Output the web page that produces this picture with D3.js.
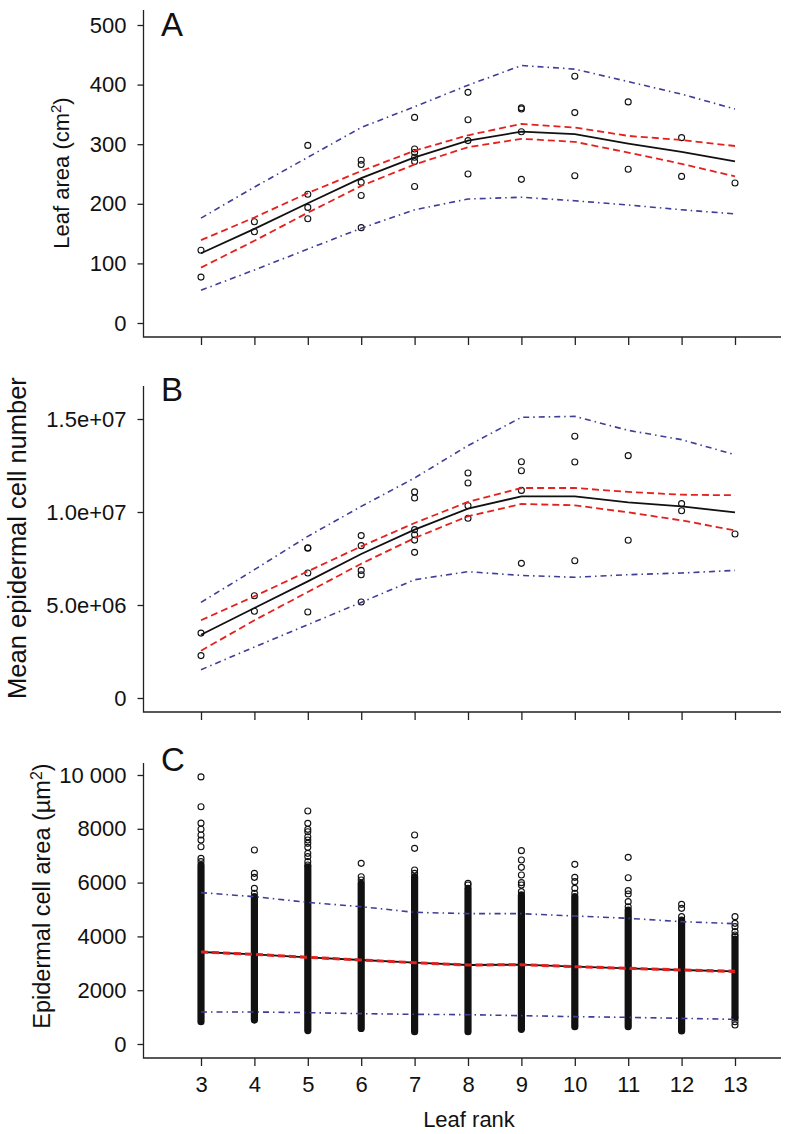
<!DOCTYPE html>
<html>
<head>
<meta charset="utf-8">
<script src="https://cdn.jsdelivr.net/npm/d3@7"></script>
<style>
  html, body { margin: 0; padding: 0; background: #fff; }
  svg { display: block; }
  text { font-family: "Liberation Sans", Arial, Helvetica, sans-serif; fill: #111; }
</style>
</head>
<body>
<svg id="chart" width="795" height="1134"></svg>
<script>
// ---------------- DATA ----------------
const ranks = [3, 4, 5, 6, 7, 8, 9, 10, 11, 12, 13];

// Panel A: leaf area (cm2)
const leafAreaObs = [
  [122, 77],
  [170, 153],
  [298, 216, 194, 175],
  [273, 266, 236, 214, 160],
  [345, 292, 286, 278, 271, 229],
  [387, 341, 306, 250],
  [361, 359, 321, 241],
  [414, 353, 247],
  [371, 258],
  [311, 246],
  [235]
];
const leafAreaFit  = [117, 158, 201, 243, 278, 306, 321, 317, 301, 287, 271];
const leafAreaCIUp = [139, 177, 218, 255, 289, 315, 334, 328, 314, 307, 297];
const leafAreaCILo = [93, 138, 185, 230, 266, 295, 309, 304, 286, 267, 246];
const leafAreaPIUp = [176, 228, 278, 328, 363, 399, 432, 426, 405, 384, 359];
const leafAreaPILo = [55, 89, 124, 159, 190, 208, 211, 205, 198, 190, 183];
const leafAreaTicks = [0, 100, 200, 300, 400, 500];
const leafAreaTickLabels = ["0", "100", "200", "300", "400", "500"];

// Panel B: mean epidermal cell number (millions)
const cellNumObs = [
  [3.49, 2.28],
  [5.50, 4.66],
  [8.08, 8.05, 6.72, 4.62],
  [8.73, 8.19, 6.86, 6.63, 5.16],
  [11.08, 10.75, 9.05, 8.78, 8.49, 7.83],
  [12.10, 11.56, 10.34, 9.66],
  [12.70, 12.22, 11.16, 7.24],
  [14.07, 12.69, 7.38],
  [13.03, 8.48],
  [10.45, 10.07],
  [8.82]
];
const cellNumFit  = [3.40, 4.84, 6.27, 7.74, 9.05, 10.18, 10.84, 10.84, 10.52, 10.30, 9.98];
const cellNumCIUp = [4.18, 5.47, 6.81, 8.15, 9.41, 10.54, 11.29, 11.29, 11.08, 10.93, 10.90];
const cellNumCILo = [2.54, 4.18, 5.70, 7.22, 8.60, 9.77, 10.43, 10.36, 9.98, 9.55, 9.01];
const cellNumPIUp = [5.14, 6.90, 8.69, 10.30, 11.83, 13.57, 15.09, 15.14, 14.39, 13.89, 13.08];
const cellNumPILo = [1.52, 2.74, 3.94, 5.14, 6.36, 6.79, 6.59, 6.49, 6.63, 6.72, 6.86];
const cellNumTicks = [0, 5, 10, 15];
const cellNumTickLabels = ["0", "5.0e+06", "1.0e+07", "1.5e+07"];

// Panel C: epidermal cell area (um2)
const cellAreaSparse = [
  [9930, 8820, 8210, 7985, 7770, 7580, 7335, 6900, 6780],
  [7212, 6344, 6196, 5787, 5601],
  [8662, 8203, 7980, 7893, 7707, 7584, 7460, 7311, 7088, 6964, 6778, 6654],
  [6716, 6220, 6097],
  [7769, 7274, 6468, 6344],
  [5973, 5911],
  [7187, 6840, 6567, 6282, 5998, 5911, 5663],
  [6679, 6196, 6035, 5787, 5601],
  [6939, 6183, 5700, 5576, 5291, 5105],
  [5192, 5043, 4734],
  [4734, 4486, 4362, 4176, 4052, 3990, 955, 830, 706]
];
const cellAreaDenseLo = [830, 890, 500, 580, 460, 460, 545, 645, 645, 485, 1000];
const cellAreaDenseHi = [6650, 5480, 6590, 5970, 6220, 5790, 5540, 5480, 4980, 4610, 3900];
const cellAreaFit  = [3420, 3333, 3222, 3123, 3023, 2937, 2949, 2875, 2813, 2751, 2701];
const cellAreaCIUp = [3445, 3355, 3245, 3145, 3045, 2960, 2970, 2897, 2836, 2775, 2727];
const cellAreaCILo = [3395, 3311, 3199, 3101, 3001, 2914, 2928, 2853, 2790, 2727, 2675];
const cellAreaPIUp = [5626, 5477, 5266, 5105, 4895, 4845, 4845, 4758, 4672, 4548, 4473];
const cellAreaPILo = [1190, 1190, 1165, 1128, 1103, 1090, 1053, 1016, 991, 954, 917];
const cellAreaTicks = [0, 2000, 4000, 6000, 8000, 10000];
const cellAreaTickLabels = ["0", "2000", "4000", "6000", "8000", "10 000"];

// ---------------- LAYOUT ----------------
const svg = d3.select("#chart");
const AXIS_X = 143.5, AXIS_END = 781;
const x = d3.scaleLinear().domain([3, 13]).range([201, 735]);

const RED = "#e3211f", BLUE = "#3f3d97", BLACK = "#111";

const panels = [
  { label: "A", top: 10, bottom: 337, domain: [0, 500], range: [323, 25],
    ticks: leafAreaTicks, tickLabels: leafAreaTickLabels,
    obs: leafAreaObs, fit: leafAreaFit, ciUp: leafAreaCIUp, ciLo: leafAreaCILo,
    piUp: leafAreaPIUp, piLo: leafAreaPILo,
    title: ["Leaf area (cm", "2", ")"], titleX: 69, titleY: 173, titleSize: 22,
    labelY: 36 },
  { label: "B", top: 386, bottom: 712, domain: [0, 15], range: [698, 419],
    ticks: cellNumTicks, tickLabels: cellNumTickLabels,
    obs: cellNumObs, fit: cellNumFit, ciUp: cellNumCIUp, ciLo: cellNumCILo,
    piUp: cellNumPIUp, piLo: cellNumPILo,
    title: ["Mean epidermal cell number"], titleX: 26, titleY: 538, titleSize: 25.5,
    labelY: 401 },
  { label: "C", top: 763, bottom: 1058, domain: [0, 10000], range: [1044, 775],
    ticks: cellAreaTicks, tickLabels: cellAreaTickLabels,
    fit: cellAreaFit, ciUp: cellAreaCIUp, ciLo: cellAreaCILo,
    piUp: cellAreaPIUp, piLo: cellAreaPILo,
    title: ["Epidermal cell area (\u00b5m", "2", ")"], titleX: 50, titleY: 896, titleSize: 23.5,
    labelY: 771, xLabels: true }
];

panels.forEach((p) => {
  const y = d3.scaleLinear().domain(p.domain).range(p.range);
  const g = svg.append("g");

  // L-shaped frame
  g.append("path")
    .attr("d", `M${AXIS_X},${p.top}V${p.bottom}H${AXIS_END}`)
    .attr("fill", "none").attr("stroke", "#222").attr("stroke-width", 1.3);

  // y axis
  const yAxis = d3.axisLeft(y).tickValues(p.ticks)
    .tickFormat((d, i) => p.tickLabels[i]).tickSize(6).tickPadding(11);
  const ya = g.append("g").attr("transform", `translate(${AXIS_X},0)`).call(yAxis);
  ya.select(".domain").remove();
  ya.selectAll("line").attr("stroke", "#222").attr("stroke-width", 1.3);
  ya.selectAll("text").attr("font-size", 22).attr("font-family", "Liberation Sans, Arial, sans-serif").attr("fill", "#111");

  // x axis
  const xAxis = d3.axisBottom(x).tickValues(ranks).tickSize(8).tickPadding(10)
    .tickFormat(p.xLabels ? d3.format("d") : () => "");
  const xa = g.append("g").attr("transform", `translate(0,${p.bottom})`).call(xAxis);
  xa.select(".domain").remove();
  xa.selectAll("line").attr("stroke", "#222").attr("stroke-width", 1.3);
  xa.selectAll("text").attr("font-size", 22).attr("font-family", "Liberation Sans, Arial, sans-serif").attr("fill", "#111");

  // panel letter
  g.append("text").attr("x", 161).attr("y", p.labelY)
    .attr("font-size", 33).text(p.label);

  // y title
  const t = g.append("text")
    .attr("transform", `translate(${p.titleX},${p.titleY}) rotate(-90)`)
    .attr("text-anchor", "middle").attr("font-size", p.titleSize);
  t.append("tspan").text(p.title[0]);
  if (p.title.length > 1) {
    t.append("tspan").attr("font-size", p.titleSize * 0.68).attr("dy", -8).text(p.title[1]);
    t.append("tspan").attr("dy", 8).text(p.title[2]);
  }

  // points
  if (p.obs) {
    const pts = [];
    p.obs.forEach((vals, i) => vals.forEach(v => pts.push([ranks[i], v])));
    g.append("g").selectAll("circle").data(pts).join("circle")
      .attr("cx", d => x(d[0])).attr("cy", d => y(d[1])).attr("r", 3)
      .attr("fill", "none").attr("stroke", BLACK).attr("stroke-width", 1.1);
  } else {
    // dense columns of many overlapping points
    g.append("g").selectAll("rect").data(ranks).join("rect")
      .attr("x", d => x(d) - 3.6).attr("width", 7.2)
      .attr("y", (d, i) => y(cellAreaDenseHi[i]) - 3.6)
      .attr("height", (d, i) => y(cellAreaDenseLo[i]) - y(cellAreaDenseHi[i]) + 7.2)
      .attr("rx", 3.6).attr("fill", BLACK);
    const pts = [];
    cellAreaSparse.forEach((vals, i) => vals.forEach(v => pts.push([ranks[i], v])));
    g.append("g").selectAll("circle").data(pts).join("circle")
      .attr("cx", d => x(d[0])).attr("cy", d => y(d[1])).attr("r", 3)
      .attr("fill", "none").attr("stroke", BLACK).attr("stroke-width", 1.1);
  }

  const line = d3.line().x((d, i) => x(ranks[i])).y(d => y(d));
  const drawLine = (vals, color, dash, w) =>
    g.append("path").attr("d", line(vals)).attr("fill", "none")
      .attr("stroke", color).attr("stroke-width", w)
      .attr("stroke-dasharray", dash);

  drawLine(p.fit, BLACK, null, 1.8);
  drawLine(p.ciUp, RED, "7,4", 1.8);
  drawLine(p.ciLo, RED, "7,4", 1.8);
  drawLine(p.piUp, BLUE, "6,4,1.5,4", 1.6);
  drawLine(p.piLo, BLUE, "6,4,1.5,4", 1.6);
});

// x axis title
svg.append("text").attr("x", 469).attr("y", 1127).attr("text-anchor", "middle")
  .attr("font-size", 22).text("Leaf rank");
</script>
</body>
</html>
